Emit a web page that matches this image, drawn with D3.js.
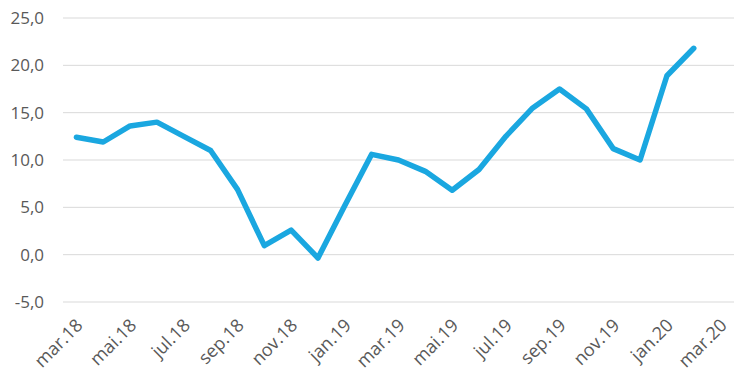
<!DOCTYPE html>
<html><head><meta charset="utf-8">
<script src="https://cdn.jsdelivr.net/npm/d3@7"></script>
<style>body{margin:0;background:#fff}svg{display:block}</style>
</head><body><svg id="c" width="750" height="383"></svg>
<script>
const months = ["mar.18","apr.18","mai.18","jun.18","jul.18","aug.18","sep.18","okt.18","nov.18","des.18",
"jan.19","feb.19","mar.19","apr.19","mai.19","jun.19","jul.19","aug.19","sep.19","okt.19","nov.19","des.19",
"jan.20","feb.20","mar.20"];
const values = [12.4,11.9,13.6,14.0,12.5,11.0,6.9,0.95,2.6,-0.35,5.2,10.6,10.0,8.8,6.8,9.0,12.5,15.5,17.5,15.4,11.2,10.0,18.9,21.8];
const yTicks = [-5,0,5,10,15,20,25];
const xLabels = ["mar.18","mai.18","jul.18","sep.18","nov.18","jan.19","mar.19","mai.19","jul.19","sep.19","nov.19","jan.20","mar.20"];

const svg = d3.select("#c");
const x = d3.scaleBand().domain(months).range([63,734]);
const y = d3.scaleLinear().domain([-5,25]).range([302,18]);
const fmt = v => d3.format(".1f")(v).replace(".",",").replace("−","-");

svg.append("g").selectAll("line").data(yTicks).join("line")
  .attr("x1",63).attr("x2",734).attr("y1",d=>y(d)).attr("y2",d=>y(d))
  .attr("stroke","#d9d9d9").attr("stroke-width",1);

svg.append("g").selectAll("text").data(yTicks).join("text")
  .attr("x",44).attr("y",d=>y(d)).attr("dy","0.35em").attr("text-anchor","end")
  .attr("font-family","Open Sans").attr("font-size",17).attr("fill","#595959")
  .text(fmt);

svg.append("g").selectAll("text").data(xLabels).join("text")
  .attr("transform",d=>`translate(${x(d)+x.bandwidth()/2+3},${322}) rotate(-45)`)
  .attr("text-anchor","end").attr("dy","0.35em")
  .attr("font-family","Open Sans").attr("font-size",18).attr("fill","#595959")
  .text(d=>d);

const line = d3.line().x((d,i)=>x(months[i])+x.bandwidth()/2).y(d=>y(d));
svg.append("path").datum(values).attr("d",line)
  .attr("fill","none").attr("stroke","#1aa7e0").attr("stroke-width",5.5)
  .attr("stroke-linejoin","round").attr("stroke-linecap","round");
</script></body></html>
